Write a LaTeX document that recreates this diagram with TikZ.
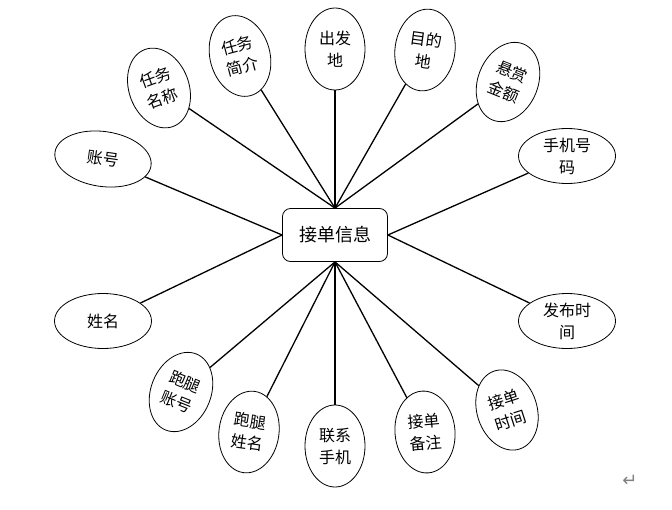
\documentclass[tikz,border=0pt]{standalone}
\usepackage{fontspec}
\usepackage{xcolor}
\usepackage{tikz}
\usetikzlibrary{shapes.geometric}
\newfontfamily\cjk{Noto Sans CJK SC}
\newfontfamily\symfont{DejaVu Sans}
\tikzset{
  infobox/.style={
    draw,
    rounded corners=8pt,
    align=center,
    line width=0.8pt,
    font=\cjk\fontsize{18}{22}\selectfont,
    minimum width=105pt,
    minimum height=53pt,
    inner sep=0pt
  },
  attrtall/.style={
    ellipse,
    draw,
    align=center,
    line width=0.8pt,
    font=\cjk\fontsize{16}{22}\selectfont,
    minimum width=60pt,
    minimum height=82pt,
    inner sep=0pt
  },
  attrwide/.style={
    attrtall,
    minimum width=97pt,
    minimum height=55pt
  },
  link/.style={line width=1.3pt}
}
\begin{document}
\begin{tikzpicture}[x=1pt,y=-1pt]
  \useasboundingbox (0,0) rectangle (672,509);
  \node[infobox] (info) at (335,235) {接单信息};
  % attributes above
  \node[attrwide, rotate=-8] (account) at (103,159) {账号};
  \node[attrtall, rotate=20] (taskname) at (159,88) {任务\\名称};
  \node[attrtall, rotate=15] (taskintro) at (240,56) {任务\\简介};
  \node[attrtall] (origin) at (335,49) {出发\\地};
  \node[attrtall, rotate=-8] (destination) at (425,50) {目的\\地};
  \node[attrtall, rotate=-22] (reward) at (508,82) {悬赏\\金额};
  \node[attrwide] (phone) at (567,156) {手机号\\码};
  % attributes below
  \node[attrwide] (posttime) at (567,321) {发布时\\间};
  \node[attrtall, rotate=18] (taketime) at (507,410) {接单\\时间};
  \node[attrtall, rotate=5] (takenote) at (425,432) {接单\\备注};
  \node[attrtall] (contact) at (335,446) {联系\\手机};
  \node[attrtall, rotate=-8] (runnername) at (249,432) {跑腿\\姓名};
  \node[attrtall, rotate=-22] (runneraccount) at (181,392) {跑腿\\账号};
  \node[attrwide] (name) at (103,321) {姓名};
  \node[text=gray, font=\symfont\fontsize{18}{18}\selectfont] (mark) at (630,481) {↵};
  % links
  \draw[link] (info.west) -- (account);
  \draw[link] (info.west) -- (name);
  \draw[link] (info.north) -- (taskname);
  \draw[link] (info.north) -- (taskintro);
  \draw[link] (info.north) -- (origin);
  \draw[link] (info.north) -- (destination);
  \draw[link] (info.north) -- (reward);
  \draw[link] (info.east) -- (phone);
  \draw[link] (info.east) -- (posttime);
  \draw[link] (info.south) -- (taketime);
  \draw[link] (info.south) -- (takenote);
  \draw[link] (info.south) -- (contact);
  \draw[link] (info.south) -- (runnername);
  \draw[link] (info.south) -- (runneraccount);
\end{tikzpicture}
\end{document}
